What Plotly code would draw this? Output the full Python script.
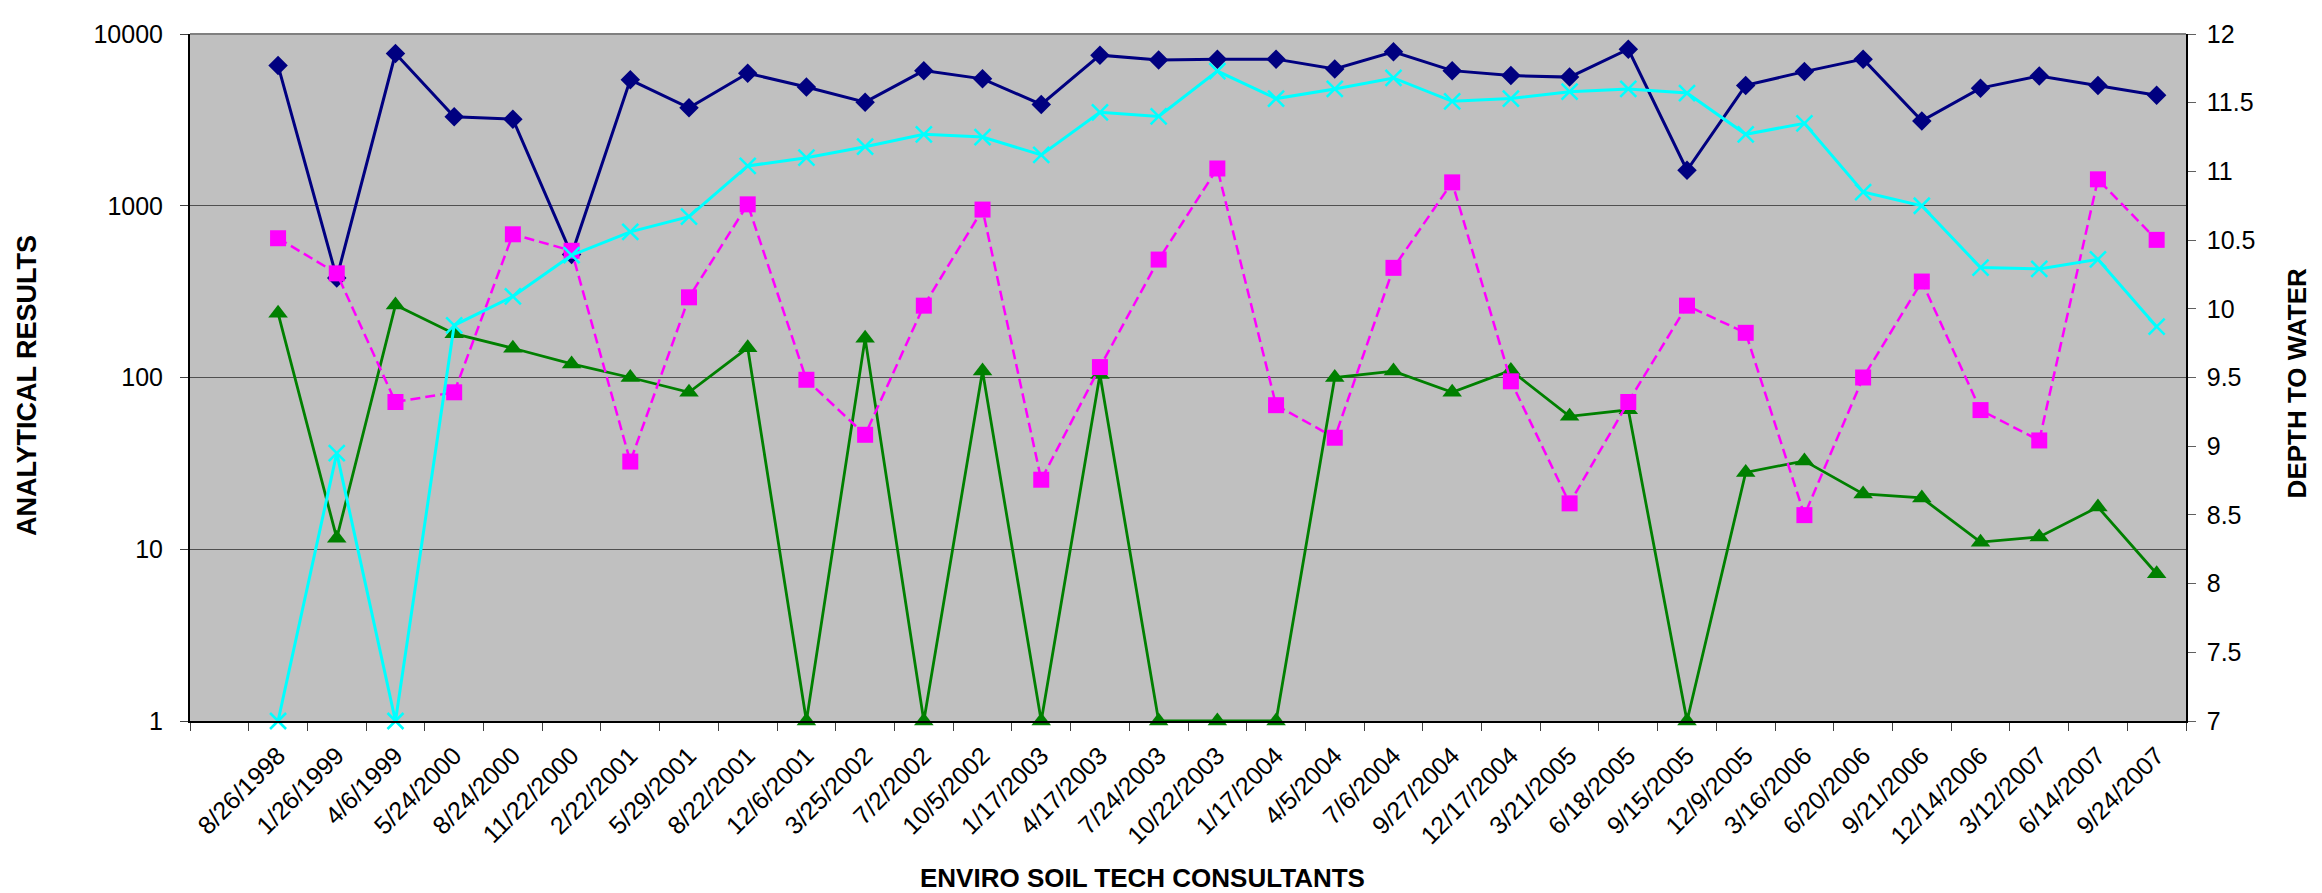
import plotly.graph_objects as go

dates = ["8/26/1998", "1/26/1999", "4/6/1999", "5/24/2000", "8/24/2000", "11/22/2000",
         "2/22/2001", "5/29/2001", "8/22/2001", "12/6/2001", "3/25/2002", "7/2/2002",
         "10/5/2002", "1/17/2003", "4/17/2003", "7/24/2003", "10/22/2003", "1/17/2004",
         "4/5/2004", "7/6/2004", "9/27/2004", "12/17/2004", "3/21/2005", "6/18/2005",
         "9/15/2005", "12/9/2005", "3/16/2006", "6/20/2006", "9/21/2006", "12/14/2006",
         "3/12/2007", "6/14/2007", "9/24/2007"]

series_navy = [6550, 380, 7700, 3300, 3190, 520, 5410, 3720, 5910, 4910, 4010, 6120,
               5480, 3890, 7530, 7050, 7140, 7140, 6250, 7870, 6120, 5730, 5610, 8150,
               1610, 5020, 6040, 7140, 3120, 4840, 5700, 5020, 4400]

series_magenta = [647, 404, 72, 82, 682, 547, 32.4, 293, 1019, 97, 46.4, 262,
                  950, 25.4, 115, 486, 1648, 69, 44.6, 435, 1368, 95, 18.5, 72,
                  262, 182, 15.8, 100, 362, 64.6, 43, 1425, 633]

series_green = [237, 11.6, 264, 180, 148, 120, 100, 82, 149, 1, 169, 1,
                109, 1, 104, 1, 1, 1, 100, 109, 82, 110, 59.4, 64.9,
                1, 28, 32.7, 21, 19.9, 11, 11.8, 17.6, 7.2]

depth_to_water = [7.0, 8.95, 7.0, 9.88, 10.09, 10.39, 10.56, 10.67, 11.04, 11.10, 11.18, 11.27,
                  11.25, 11.12, 11.43, 11.40, 11.73, 11.53, 11.60, 11.68, 11.51, 11.53, 11.58, 11.60,
                  11.57, 11.27, 11.35, 10.85, 10.75, 10.30, 10.29, 10.36, 9.87]

categories = [" "] + dates
left_ticks = [1, 10, 100, 1000, 10000]
right_ticks = [7, 7.5, 8, 8.5, 9, 9.5, 10, 10.5, 11, 11.5, 12]

FONT = "Liberation Sans, Arial, sans-serif"

fig = go.Figure()

fig.add_trace(go.Scatter(
    x=categories, y=[None] + series_navy, mode="lines+markers", name="Series 1",
    line=dict(color="#000080", width=3),
    marker=dict(symbol="diamond", size=15, color="#000080"),
    cliponaxis=False))

fig.add_trace(go.Scatter(
    x=categories, y=[None] + series_green, mode="lines+markers", name="Series 3",
    line=dict(color="#008000", width=2.8),
    marker=dict(symbol="triangle-up", size=17, color="#008000"),
    cliponaxis=False))

fig.add_trace(go.Scatter(
    x=categories, y=[None] + series_magenta, mode="lines+markers", name="Series 2",
    line=dict(color="#FF00FF", width=2.5, dash="10px,5px"),
    marker=dict(symbol="square", size=16, color="#FF00FF"),
    cliponaxis=False))

fig.add_trace(go.Scatter(
    x=categories, y=[None] + depth_to_water, mode="lines+markers", name="Depth to Water",
    yaxis="y2",
    line=dict(color="#00FFFF", width=3),
    marker=dict(symbol="x-thin", size=16, color="#00FFFF", line=dict(color="#00FFFF", width=2.5)),
    cliponaxis=False))

fig.update_layout(
    width=2322, height=893,
    margin=dict(l=182, r=144, t=16, b=180),
    paper_bgcolor="white",
    plot_bgcolor="#C0C0C0",
    showlegend=False,
    font=dict(family=FONT, size=24, color="black"),
    xaxis=dict(
        type="category",
        categoryorder="array", categoryarray=categories,
        range=[-0.5, len(categories) - 0.5],
        tickson="boundaries",
        ticks="outside", ticklen=8, tickwidth=1, tickcolor="#404040",
        tickangle=-45,
        tickfont=dict(family=FONT, size=25, color="black"),
        ticklabelstandoff=8,
        showline=True, linecolor="black", linewidth=2,
        showgrid=False, zeroline=False,
        mirror=False,
    ),
    yaxis=dict(
        type="log",
        range=[0, 4],
        tickvals=left_ticks,
        ticktext=[str(v) for v in left_ticks],
        ticks="outside", ticklen=8, tickwidth=1, tickcolor="#404040",
        tickfont=dict(family=FONT, size=25, color="black"),
        ticklabelstandoff=12,
        showline=True, linecolor="black", linewidth=2,
        showgrid=True, gridcolor="#505050", gridwidth=1,
        zeroline=False,
    ),
    yaxis2=dict(
        overlaying="y", side="right",
        range=[7, 12],
        tickvals=right_ticks,
        ticktext=[f"{v:g}" for v in right_ticks],
        ticks="outside", ticklen=8, tickwidth=1, tickcolor="#606060",
        tickfont=dict(family=FONT, size=25, color="black"),
        ticklabelstandoff=6,
        showline=True, linecolor="black", linewidth=1.5,
        showgrid=False, zeroline=False,
    ),
    shapes=[dict(type="line", xref="paper", yref="paper", x0=0, x1=1, y0=1, y1=1,
                 line=dict(color="#808080", width=2))],
    annotations=[
        dict(text="<b>ANALYTICAL RESULTS</b>", xref="paper", yref="paper",
             x=-0.082, y=0.488, xanchor="center", yanchor="middle", textangle=-90,
             showarrow=False, font=dict(family=FONT, size=27, color="black")),
        dict(text="<b>DEPTH TO WATER</b>", xref="paper", yref="paper",
             x=1.0556, y=0.4914, xanchor="center", yanchor="middle", textangle=-90,
             showarrow=False, font=dict(family=FONT, size=26, color="black")),
        dict(text="<b>ENVIRO SOIL TECH CONSULTANTS</b>", xref="paper", yref="paper",
             x=0.477, y=-0.229, xanchor="center", yanchor="middle",
             showarrow=False, font=dict(family=FONT, size=26, color="black")),
    ],
)

fig.write_html("out.html")
